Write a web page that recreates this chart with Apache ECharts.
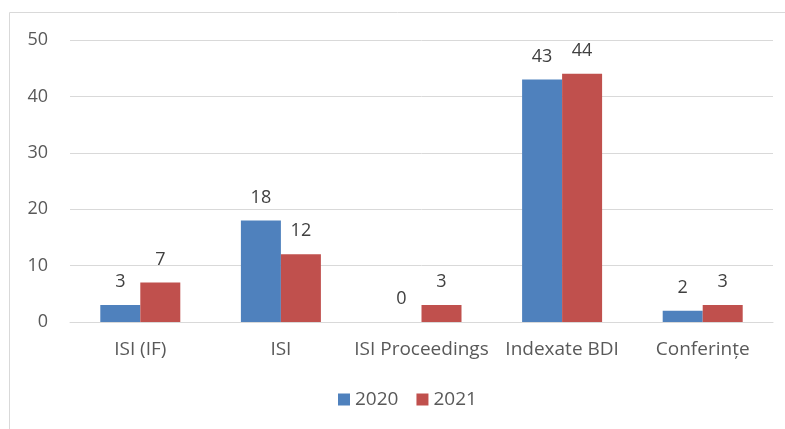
<!DOCTYPE html>
<html>
<head>
<meta charset="utf-8">
<script src="https://cdn.jsdelivr.net/npm/echarts@6/dist/echarts.min.js"></script>
<style>
  html, body { margin: 0; padding: 0; background: #fff; }
  #chart { width: 785px; height: 429px; }
</style>
</head>
<body>
<div id="chart"></div>
<script>
// date
const categories = ['ISI (IF)', 'ISI', 'ISI Proceedings', 'Indexate BDI', 'Conferințe'];
const values2020 = [3, 18, 0, 43, 2];
const values2021 = [7, 12, 3, 44, 3];
const yTicks = [0, 10, 20, 30, 40, 50];

const textColor = '#595959';
const fontFamily = 'Open Sans, Liberation Sans, sans-serif';

const chart = echarts.init(document.getElementById('chart'));

const labelCfg = {
  show: true,
  position: 'top',
  distance: 14,
  color: '#404040',
  fontSize: 18,
  fontFamily: fontFamily
};

chart.setOption({
  animation: false,
  graphic: [{
    type: 'rect',
    shape: { x: 9.5, y: 12.5, width: 900, height: 600 },
    style: { fill: 'none', stroke: '#d9d9d9', lineWidth: 1 },
    silent: true
  }],
  grid: { left: 70, right: 12, top: 40, bottom: 107 },
  legend: {
    bottom: 15,
    left: 333,
    itemWidth: 12,
    itemHeight: 12,
    itemGap: 18,
    icon: 'rect',
    textStyle: { color: textColor, fontSize: 19, fontFamily: fontFamily },
    data: ['2020', '2021']
  },
  xAxis: {
    type: 'category',
    data: categories,
    axisTick: { show: false },
    axisLine: { lineStyle: { color: '#d9d9d9', width: 1 } },
    axisLabel: { color: textColor, fontSize: 19, fontFamily: fontFamily, margin: 18, interval: 0 }
  },
  yAxis: {
    type: 'value',
    min: yTicks[0],
    max: yTicks[yTicks.length - 1],
    interval: 10,
    axisLine: { show: false },
    axisTick: { show: false },
    splitLine: { lineStyle: { color: '#d9d9d9', width: 1 } },
    axisLabel: { color: textColor, fontSize: 18, fontFamily: fontFamily, margin: 22 }
  },
  series: [
    {
      name: '2020',
      type: 'bar',
      data: values2020,
      barWidth: 40,
      barGap: '0%',
      itemStyle: { color: '#4F81BD' },
      label: labelCfg
    },
    {
      name: '2021',
      type: 'bar',
      data: values2021,
      barWidth: 40,
      itemStyle: { color: '#C0504D' },
      label: labelCfg
    }
  ]
});
</script>
</body>
</html>
